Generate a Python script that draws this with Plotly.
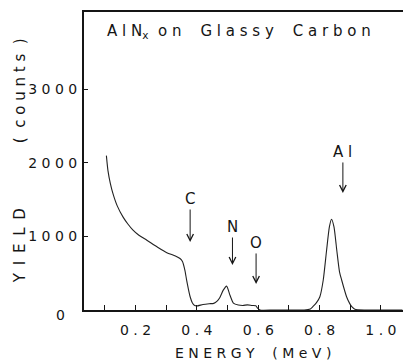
import plotly.graph_objects as go

# RBS spectrum of AlN_x on glassy carbon
energy_mev = [0.105, 0.110, 0.118, 0.126, 0.140, 0.160, 0.175, 0.191, 0.210, 0.237,
              0.270, 0.302, 0.330, 0.345, 0.353, 0.361, 0.366, 0.372, 0.378, 0.385,
              0.393, 0.400, 0.420, 0.440, 0.455, 0.466, 0.475, 0.486, 0.497, 0.508,
              0.519, 0.535, 0.550, 0.565, 0.580, 0.592, 0.598, 0.606, 0.650, 0.700,
              0.750, 0.770, 0.778, 0.790, 0.801, 0.812, 0.823, 0.832, 0.839, 0.847,
              0.856, 0.865, 0.872, 0.888, 0.898, 0.905, 0.915, 0.950, 1.000, 1.070]
yield_counts = [2100, 1900, 1720, 1590, 1420, 1260, 1170, 1090, 1020, 950,
                860, 780, 735, 700, 660, 540, 420, 290, 180, 100,
                60, 55, 75, 85, 90, 120, 170, 270, 325, 200,
                95, 68, 62, 70, 62, 58, 25, 0, 0, 0,
                0, 15, 45, 100, 181, 408, 816, 1130, 1235, 1130,
                816, 520, 408, 181, 90, 45, 10, 0, 0, 0]

# element edge markers: label, energy, arrow tip, label height (counts)
edge_labels = ["C", "N", "O", "A l"]
edge_energy = [0.378, 0.516, 0.593, 0.876]
edge_tip = [925, 612, 354, 1592]
edge_text_y = [1510, 1129, 912, 2150]

x_ticks = [0.2, 0.4, 0.6, 0.8, 1.0]
x_ticktext = ["0 . 2", "0 . 4", "0 . 6", "0 . 8", "1 . 0"]
x_minor_ticks = [0.1, 0.3, 0.5, 0.7, 0.9]
y_ticks = [1000, 2000, 3000]
y_ticktext = ["1 0 0 0", "2 0 0 0", "3 0 0 0"]

FONT = "DejaVu Sans"
INK = "#151515"

fig = go.Figure()
fig.add_trace(go.Scatter(
    x=energy_mev, y=yield_counts, mode="lines",
    line=dict(color="#222222", width=1.1, shape="spline", smoothing=0.6),
    showlegend=False, hoverinfo="skip",
))

annotations = []
for lab, ex, tip, ty in zip(edge_labels, edge_energy, edge_tip, edge_text_y):
    annotations.append(dict(
        x=ex, y=tip, xref="x", yref="y", ax=ex, ay=ty, axref="x", ayref="y",
        text=lab, showarrow=True, arrowhead=5, arrowsize=1.3, arrowwidth=1,
        arrowcolor=INK, font=dict(family=FONT, size=15, color=INK),
    ))

# sample title inside the frame
annotations.append(dict(
    x=0.065, y=0.935, xref="paper", yref="paper", xanchor="left", yanchor="middle",
    text="A l N<sub>x</sub>\u00a0\u00a0o n\u00a0\u00a0\u00a0\u00a0G l a s s y\u00a0\u00a0\u00a0\u00a0C a r b o n",
    showarrow=False, font=dict(family=FONT, size=15, color=INK),
))
# axis titles
annotations.append(dict(
    x=0.53, y=-0.145, xref="paper", yref="paper", xanchor="center", yanchor="middle",
    text="E N E R G Y\u00a0\u00a0\u00a0\u00a0( M e V )", showarrow=False,
    font=dict(family=FONT, size=14, color=INK),
))
annotations.append(dict(
    x=-0.2, y=0.215, xref="paper", yref="paper", xanchor="center", yanchor="middle",
    text="Y \u2009I \u2009E \u2009L \u2009D", textangle=-90, showarrow=False,
    font=dict(family=FONT, size=15, color=INK),
))
annotations.append(dict(
    x=-0.2, y=0.735, xref="paper", yref="paper", xanchor="center", yanchor="middle",
    text="(\u00a0\u00a0c o u n t s\u00a0\u00a0)", textangle=-90, showarrow=False,
    font=dict(family=FONT, size=15, color=INK),
))
# origin label
annotations.append(dict(
    x=-0.075, y=-0.017, xref="paper", yref="paper", xanchor="center", yanchor="middle",
    text="0", showarrow=False, font=dict(family=FONT, size=14, color=INK),
))

fig.update_layout(
    width=403, height=360,
    margin=dict(l=84, r=0, t=12, b=50),
    paper_bgcolor="white", plot_bgcolor="white",
    annotations=annotations,
    xaxis=dict(
        range=[0.032, 1.072], showgrid=False, zeroline=False,
        showline=True, linecolor=INK, linewidth=1.6, mirror=True,
        ticks="inside", ticklen=5, tickwidth=1, tickcolor=INK,
        tickvals=x_ticks, ticktext=x_ticktext, ticklabelstandoff=6,
        tickfont=dict(family=FONT, size=14, color=INK),
        minor=dict(tickvals=x_minor_ticks, ticks="inside", ticklen=5,
                   tickwidth=1, tickcolor=INK, showgrid=False),
    ),
    yaxis=dict(
        range=[0, 4054], showgrid=False, zeroline=False,
        showline=True, linecolor=INK, linewidth=2,
        ticks="inside", ticklen=4, tickwidth=1, tickcolor=INK,
        tickvals=y_ticks, ticktext=y_ticktext, ticklabelstandoff=2,
        tickfont=dict(family=FONT, size=14, color=INK),
    ),
)

fig.write_html("out.html")
